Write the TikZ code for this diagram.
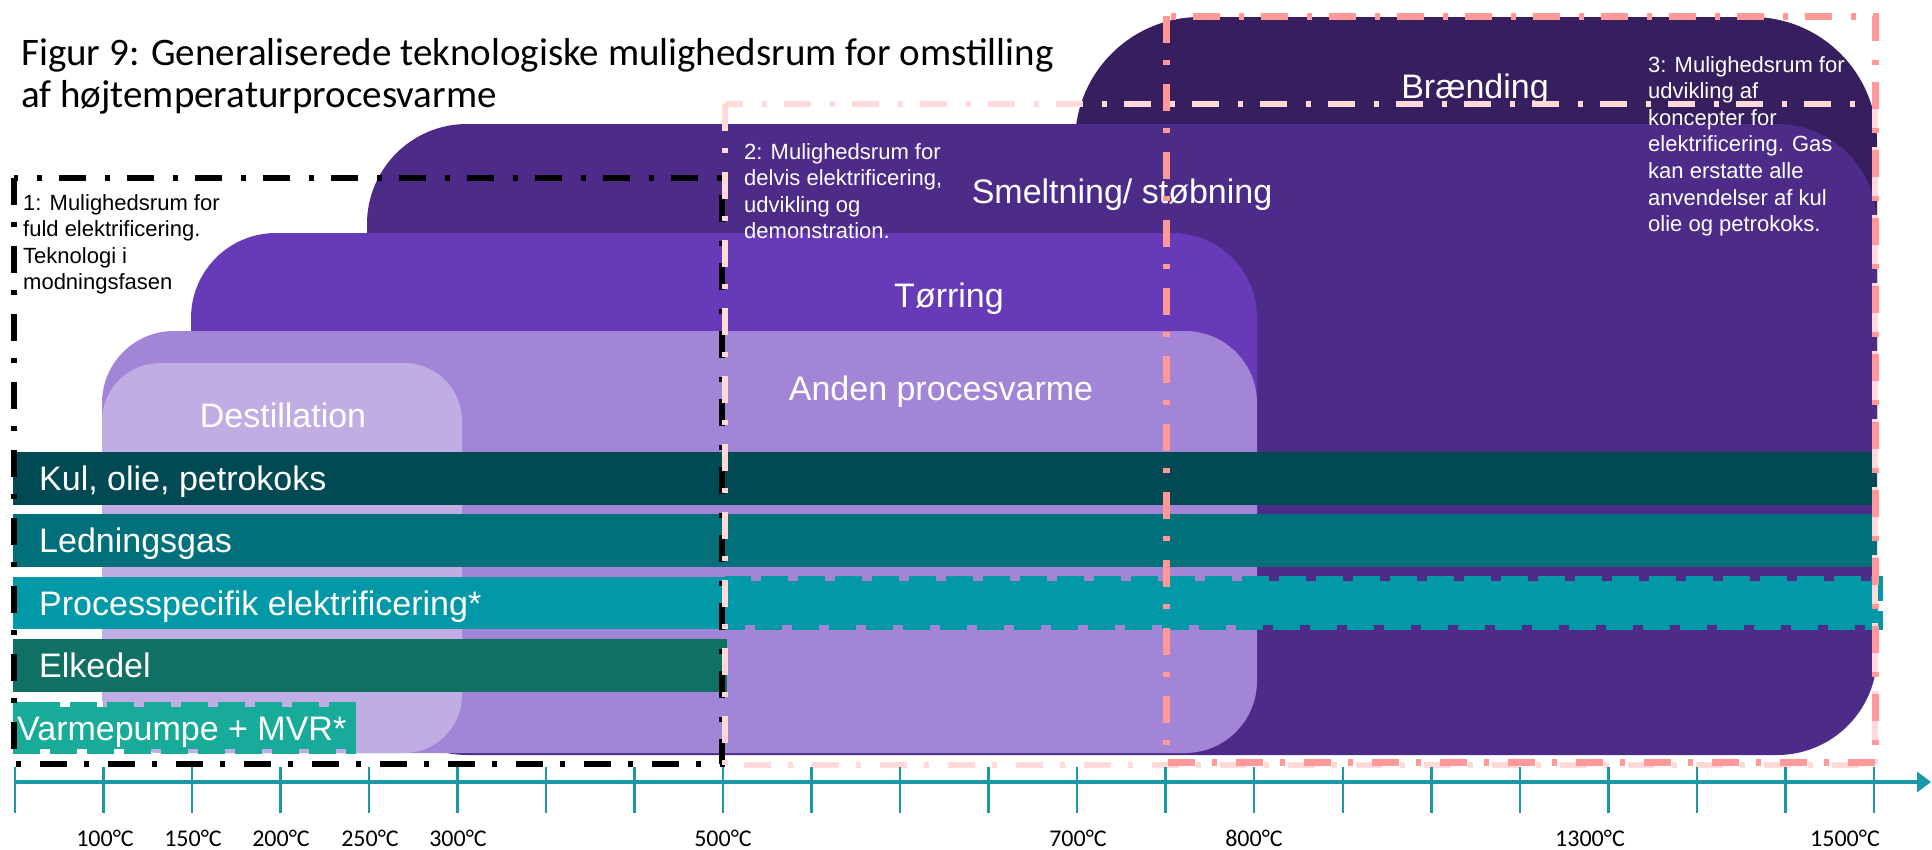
\documentclass[tikz,border=0pt]{standalone}
\usepackage{fontspec}
\setmainfont{Liberation Sans}
\newfontfamily\titlefont{Carlito}
\usetikzlibrary{arrows.meta}

\definecolor{braendcol}{HTML}{361E5F}
\definecolor{smeltcol}{HTML}{4D2B88}
\definecolor{torcol}{HTML}{673AB7}
\definecolor{andencol}{HTML}{A385D7}
\definecolor{destcol}{HTML}{BFADE3}
\definecolor{kulcol}{HTML}{014A54}
\definecolor{gascol}{HTML}{02707B}
\definecolor{proccol}{HTML}{0298A8}
\definecolor{elkcol}{HTML}{107064}
\definecolor{vpcol}{HTML}{19AB9A}
\definecolor{axiscol}{HTML}{1A98A8}
\definecolor{zonetwocol}{HTML}{FFDAD9}
\definecolor{zonethreecol}{HTML}{FF9896}

\begin{document}
\begin{tikzpicture}[x=1pt,y=-1pt,
  arealbl/.style={text=white,font=\fontsize{34}{40}\selectfont,inner sep=0pt,anchor=base},
  barlbl/.style={text=white,font=\fontsize{34}{40}\selectfont,inner sep=0pt,anchor=base west},
  note/.style={font=\fontsize{22}{26.6}\selectfont,align=left,anchor=north west,inner sep=0pt},
  zoneline/.style={line width=#1,dash pattern=on 27pt off 17pt on 5pt off 19pt},
  notched/.style={line width=10pt,dash pattern=on 27pt off 10pt},
  tempval/.style={font=\titlefont\fontsize{24}{28}\selectfont,inner sep=0pt,anchor=base},
]
\useasboundingbox[fill=white] (0,0) rectangle (1932,849);

% process areas, back to front
\fill[braendcol, rounded corners=125pt] (1075,17) rectangle (1877,560);
\fill[smeltcol, rounded corners=100pt] (367,124) rectangle (1877,755);
\fill[torcol, rounded corners=85pt] (191,233) rectangle (1257,620);
\fill[andencol, rounded corners=72pt] (102,331) rectangle (1257,753);
\fill[destcol, rounded corners=58pt] (102,363) rectangle (462,753);

% area names
\node[arealbl] (braend) at (1475,98) {Brænding};
\node[arealbl] (smelt) at (1122,203) {Smeltning/ støbning};
\node[arealbl] (torring) at (949,307) {Tørring};
\node[arealbl] (anden) at (941,400) {Anden procesvarme};
\node[arealbl] (destil) at (283,427) {Destillation};

% technology bars
\fill[kulcol] (13,452) rectangle (1877,505);
\fill[gascol] (13,514) rectangle (1877,567);
\fill[proccol] (13,577) rectangle (725,629);
\fill[proccol] (725,581) rectangle (1878,625);
\draw[proccol, notched] (725,581) rectangle (1878,625);
\fill[elkcol] (13,639) rectangle (727,692);
\fill[vpcol] (13,707) rectangle (356,749);
\draw[vpcol, notched] (356,707) -- (13,707) (13,749) -- (356,749);
\fill[vpcol] (13,702) rectangle (40,754);

\node[barlbl] (kul) at (39,490) {Kul, olie, petrokoks};
\node[barlbl] (gas) at (39,552.5) {Ledningsgas};
\node[barlbl] (proc) at (39,615) {Processpecifik elektrificering*};
\node[barlbl] (elk) at (39,677.5) {Elkedel};
\node[barlbl] (vp) at (17,740) {Varmepumpe + MVR*};

% opportunity spaces
\draw[black, zoneline=5.5pt] (14,178) rectangle (722,764);
\draw[zonetwocol, zoneline=6pt] (725,104) rectangle (1875,765);
\draw[zonethreecol, zoneline=7pt] (1166,16) rectangle (1875,762);

\node[note, text=black] (rum1) at (23,194) {1: Mulighedsrum for\\fuld elektrificering.\\Teknologi i\\modningsfasen};
\node[note, text=white] (rum2) at (744,143) {2: Mulighedsrum for\\delvis elektrificering,\\udvikling og\\demonstration.};
\node[note, text=white] (rum3) at (1648,56) {3: Mulighedsrum for\\udvikling af\\koncepter for\\elektrificering. Gas\\kan erstatte alle\\anvendelser af kul\\olie og petrokoks.};

% title
\node[font=\titlefont\fontsize{39}{42}\selectfont, inner sep=0pt, anchor=base west] (title1) at (21,65) {Figur 9: Generaliserede teknologiske mulighedsrum for omstilling};
\node[font=\titlefont\fontsize{39}{42}\selectfont, inner sep=0pt, anchor=base west] (title2) at (21,107) {af højtemperaturprocesvarme};

% temperature axis
\coordinate (axstart) at (14.8,782);
\coordinate (axend) at (1931,782);
\draw[axiscol, line width=3.5pt, -{Triangle[length=14pt,width=20pt]}] (axstart) -- (axend);
\foreach \i in {0,...,21}{
  \draw[axiscol, line width=2.5pt] (14.8+88.53*\i,767) -- (14.8+88.53*\i,813);
}
\node[tempval] (t100) at (105,846) {100°C};
\node[tempval] (t150) at (193,846) {150°C};
\node[tempval] (t200) at (281,846) {200°C};
\node[tempval] (t250) at (370,846) {250°C};
\node[tempval] (t300) at (458,846) {300°C};
\node[tempval] (t500) at (723,846) {500°C};
\node[tempval] (t700) at (1078,846) {700°C};
\node[tempval] (t800) at (1254,846) {800°C};
\node[tempval] (t1300) at (1590,846) {1300°C};
\node[tempval] (t1500) at (1845,846) {1500°C};
\end{tikzpicture}
\end{document}
